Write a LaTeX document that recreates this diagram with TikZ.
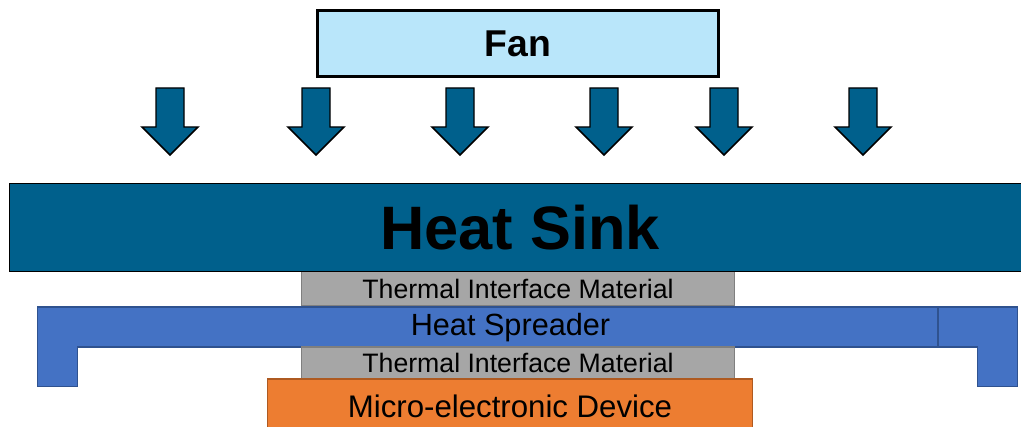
\documentclass[tikz,border=0pt]{standalone}
\usepackage{fontspec}
\setmainfont{Liberation Sans}
\usetikzlibrary{positioning}
\definecolor{FanFill}{RGB}{185,230,250}
\definecolor{SinkBlue}{RGB}{0,96,140}
\definecolor{SpreadBlue}{RGB}{68,114,196}
\definecolor{SpreadEdge}{RGB}{47,82,143}
\definecolor{TimGray}{RGB}{166,166,166}
\definecolor{TimEdge}{RGB}{127,127,127}
\definecolor{DevOrange}{RGB}{237,125,49}
\definecolor{DevEdge}{RGB}{174,90,33}
\begin{document}
\begin{tikzpicture}[
x=0.75pt,y=-0.75pt,
layer/.style={rectangle,inner sep=0pt,outer sep=0pt,text depth=0pt,align=center},
fanbox/.style={layer,draw=black,fill=FanFill,line width=2.25pt,font=\fontsize{28}{30}\selectfont\bfseries},
sinkbox/.style={layer,draw=black,fill=SinkBlue,line width=0.9pt,font=\fontsize{46}{48}\selectfont\bfseries},
tim/.style={layer,draw=TimEdge,fill=TimGray,line width=0.9pt,minimum width=324.75pt,font=\fontsize{20}{22}\selectfont},
devbox/.style={layer,draw=DevEdge,fill=DevOrange,line width=0.9pt,font=\fontsize{23.4}{25}\selectfont},
spread/.style={draw=SpreadEdge,fill=SpreadBlue,line width=0.9pt},
flow/.style={draw=black,fill=SinkBlue,line width=1.1pt,line join=miter}
]
\useasboundingbox (0,0) rectangle (1021,427);
% fan and air flow
\node[fanbox,minimum width=300.75pt,minimum height=49.5pt] (fan) at (518,43.5) {Fan};
\foreach \ax in {170,316,460,604,724,863}
  \draw[flow] ({\ax-14},88) -- ({\ax+14},88) -- ({\ax+14},127) -- ({\ax+28},127)
    -- (\ax,155) -- ({\ax-28},127) -- ({\ax-14},127) -- cycle;
% stack
\node[tim,minimum height=26.25pt] (tim1) at (518,288.5) {Thermal Interface Material};
\node[sinkbox,minimum width=766.1pt,minimum height=66pt,text height=33pt] (sink) at (520.25,227.5) {Heat Sink};
\draw[spread] (37.5,307) -- (1017.5,307) -- (1017.5,386.5) -- (977.5,386.5) -- (977.5,347)
  -- (77.5,347) -- (77.5,386.5) -- (37.5,386.5) -- cycle;
\draw[draw=SpreadEdge,line width=0.9pt] (938,307) -- (938,347);
\node[font=\fontsize{23}{25}\selectfont,text depth=0pt,inner sep=0pt] (spr) at (510.5,324.5) {Heat Spreader};
\node[tim,minimum height=24pt] (tim2) at (518,363) {Thermal Interface Material};
\node[devbox,minimum width=363.75pt,minimum height=40.5pt] (dev) at (510,406) {Micro-electronic Device};
\end{tikzpicture}
\end{document}
